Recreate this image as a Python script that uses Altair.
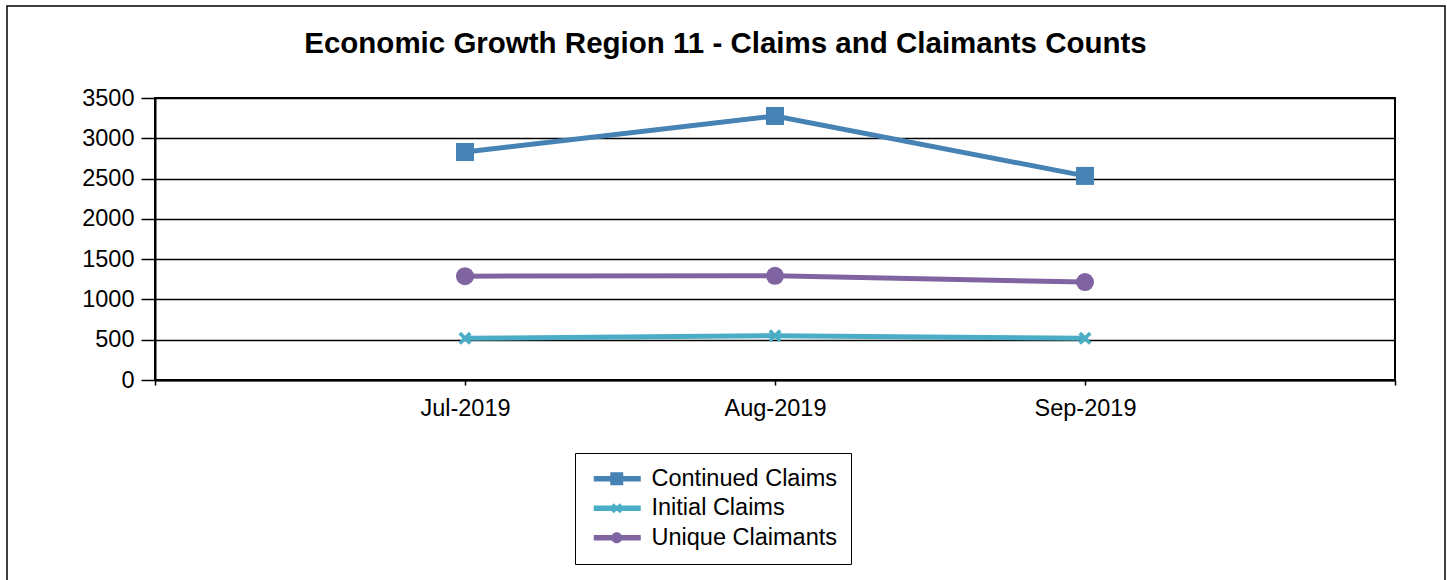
import altair as alt
import pandas as pd

months = ["Jul-2019", "Aug-2019", "Sep-2019"]
series = ["Continued Claims", "Initial Claims", "Unique Claimants"]
continued = [2830, 3277, 2533]
initial = [517, 549, 517]
unique = [1289, 1293, 1215]
colors = ["#4682B4", "#4BACC6", "#8064A2"]
y_ticks = [0, 500, 1000, 1500, 2000, 2500, 3000, 3500]

values = {"Continued Claims": continued, "Initial Claims": initial, "Unique Claimants": unique}
rows = []
for s in series:
    for i, m in enumerate(months):
        rows.append({"series": s, "month": m, "pos": i + 1, "value": values[s][i]})
df = pd.DataFrame(rows)

FONT = "Liberation Sans"

label_expr = " : ".join(f"datum.value == {i + 1} ? '{m}'" for i, m in enumerate(months)) + " : ''"

x = alt.X("pos:Q", scale=alt.Scale(domain=[0, len(months) + 1], nice=False, zero=False),
          axis=alt.Axis(values=list(range(0, len(months) + 2)), labelExpr=label_expr, title=None,
                        grid=False, tickSize=5, labelPadding=11))
y = alt.Y("value:Q", scale=alt.Scale(domain=[0, 3500], nice=False),
          axis=alt.Axis(values=y_ticks, format="d", title=None, tickSize=14, labelPadding=7, grid=True))

x_path = "M-1,-0.6L-0.6,-1L0,-0.4L0.6,-1L1,-0.6L0.4,0L1,0.6L0.6,1L0,0.4L-0.6,1L-1,0.6L-0.4,0Z"
plot_shapes = ["square", x_path, "circle"]
plot_sizes = [324, 169, 324]

line_part = "M-0.7,-0.27H4.0V0.27H-0.7Z"
legend_paths = [
    line_part + "M0.95,-0.65H2.25V0.65H0.95Z",
    line_part + "M1.1,-0.3L1.3,-0.5L1.6,-0.2L1.9,-0.5L2.1,-0.3L1.8,0L2.1,0.3L1.9,0.5L1.6,0.2L1.3,0.5L1.1,0.3L1.4,0Z",
    line_part + "M2.15,0A0.55,0.55 0 1,1 1.05,0A0.55,0.55 0 1,1 2.15,0Z",
]

legend_cfg = dict(
    orient="none", legendX=420, legendY=355, title=None, direction="vertical",
    strokeColor="black", fillColor="white", padding=14,
    labelFont=FONT, labelFontSize=23.5, labelColor="black", labelOffset=39, labelLimit=500,
    labelExpr="datum.label + '    '", symbolSize=400, symbolStrokeWidth=0, symbolOpacity=1,
    rowPadding=4.5,
)

frame = alt.Chart(alt.Data(values=[{}])).mark_rect(
    fillOpacity=0, stroke="black", strokeWidth=1.5
).encode(x=alt.value(-148), x2=alt.value(1290), y=alt.value(-92), y2=alt.value(495))

lines = alt.Chart(df).mark_line(strokeWidth=5).encode(
    x=x, y=y,
    color=alt.Color("series:N", scale=alt.Scale(domain=series, range=colors),
                    legend=alt.Legend(**legend_cfg)),
)

point_layers = []
for s, c, shp, sz in zip(series, colors, plot_shapes, plot_sizes):
    point_layers.append(
        alt.Chart(df).transform_filter(alt.datum.series == s)
        .mark_point(shape=shp, size=sz, filled=True, color=c, opacity=1)
        .encode(x=x, y=y)
    )

legend_layer = alt.Chart(df).transform_filter("false").mark_point(filled=True, opacity=1).encode(
    x=x, y=y,
    shape=alt.Shape("series:N", scale=alt.Scale(domain=series, range=legend_paths),
                    legend=alt.Legend(**legend_cfg)),
    fill=alt.Fill("series:N", scale=alt.Scale(domain=series, range=colors),
                  legend=alt.Legend(**legend_cfg)),
)

chart = alt.layer(frame, lines, *point_layers, legend_layer).properties(
    width=1240, height=282,
    padding={"left": 155, "top": 98, "right": 52, "bottom": 200},
    autosize=alt.AutoSizeParams(type="none"),
    title=alt.Title("Economic Growth Region 11 - Claims and Claimants Counts", fontSize=29.5, font=FONT,
                    fontWeight="bold", offset=-54, dx=-49.5, anchor="middle", color="black", frame="group"),
    background="white",
).configure_view(stroke="black", strokeWidth=2).configure_axis(
    domainColor="black", domainWidth=2, tickColor="black", tickWidth=1.5,
    gridColor="black", gridWidth=1.5, gridOpacity=1,
    labelFont=FONT, labelFontSize=23.5, labelColor="black",
)

chart.save("out.html", embed_options={"renderer": "svg", "actions": False})
